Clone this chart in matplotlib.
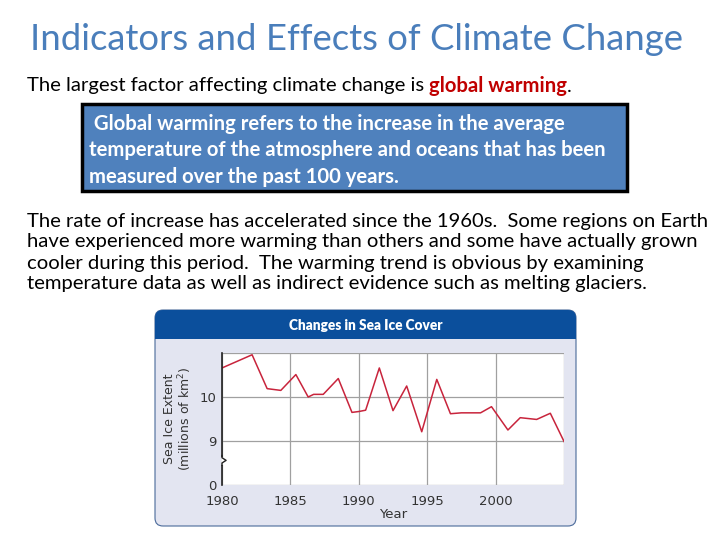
import matplotlib
matplotlib.use("Agg")
import matplotlib.pyplot as plt
from matplotlib.patches import FancyBboxPatch, Rectangle

# sea ice extent (millions of km^2); the axis is broken,
# so the "0" label sits one unit below 9
years = [1980.0, 1982.2, 1983.3, 1984.3, 1985.4, 1986.3, 1986.7, 1987.4,
         1988.5, 1989.5, 1990.0, 1990.5, 1991.5, 1992.5, 1993.5, 1994.6,
         1995.7, 1996.7, 1997.5, 1998.9, 1999.7, 2000.9, 2001.8, 2003.0,
         2004.0, 2005.0]
extent = [10.66, 10.96, 10.19, 10.15, 10.51, 10.00, 10.06, 10.06,
          10.42, 9.65, 9.67, 9.70, 10.66, 9.69, 10.25, 9.21,
          10.40, 9.62, 9.64, 9.64, 9.78, 9.25, 9.53, 9.49,
          9.63, 8.99]
x_ticks = [1980, 1985, 1990, 1995, 2000]
y_ticks = [8, 9, 10]
y_tick_labels = ["0", "9", "10"]

title = "Indicators and Effects of Climate Change"
intro = "The largest factor affecting climate change is "
key_term = "global warming"
box_lines = [" Global warming refers to the increase in the average",
             "temperature of the atmosphere and oceans that has been",
             "measured over the past 100 years."]
para_lines = ["The rate of increase has accelerated since the 1960s.  Some regions on Earth",
              "have experienced more warming than others and some have actually grown",
              "cooler during this period.  The warming trend is obvious by examining",
              "temperature data as well as indirect evidence such as melting glaciers."]

_TITLE, _RED, _BOX = "#4a7ebb", "#c00000", "#4f81bd"
_NAVY, _PANEL, _LINE = "#0b4f9c", "#e3e5f1", "#c8243c"
FONT = "Lato"
BODY = 14.6

fig = plt.figure(figsize=(7.2, 5.4), dpi=100)
bg = fig.add_axes([0, 0, 1, 1])
bg.set_xlim(0, 720); bg.set_ylim(540, 0); bg.axis("off")

# slide text
bg.text(357, 40, title, color=_TITLE, fontsize=26.3, family=FONT,
        ha="center", va="center")
t = bg.text(27, 86, intro, color="black", fontsize=BODY, family=FONT,
            va="center")
fig.canvas.draw()
r = fig.canvas.get_renderer()
x_end = bg.transData.inverted().transform(t.get_window_extent(r).corners()[-1])[0]
t2 = bg.text(x_end, 86, key_term, color=_RED, fontsize=BODY, family=FONT,
             weight="bold", va="center")
x_end = bg.transData.inverted().transform(t2.get_window_extent(r).corners()[-1])[0]
bg.text(x_end, 86, ".", color="black", fontsize=BODY, family=FONT, va="center")

bg.add_patch(Rectangle((82, 104), 545, 87, fc=_BOX, ec="black", lw=2.5))
for i, s in enumerate(box_lines):
    bg.text(89, 124 + 26.5 * i, s, color="white", fontsize=BODY, family=FONT,
            weight="bold", va="center")
for i, s in enumerate(para_lines):
    bg.text(27, 221 + 21 * i, s, color="black", fontsize=BODY, family=FONT,
            va="center")

# chart panel
bg.add_patch(FancyBboxPatch((155, 310), 421, 216, boxstyle="round,pad=0,rounding_size=8",
                            fc=_PANEL, ec="#4a6a9a", lw=0.8))
bg.add_patch(FancyBboxPatch((155, 310), 421, 29, boxstyle="round,pad=0,rounding_size=8",
                            fc=_NAVY, ec="none"))
bg.add_patch(Rectangle((155, 325), 421, 14, fc=_NAVY, ec="none"))
bg.text(366, 325.5, "Changes in Sea Ice Cover", color="white", fontsize=9.8,
        family=FONT, weight="heavy", ha="center", va="center")

ax = fig.add_axes([222 / 720, 1 - 485 / 540, (564 - 222) / 720, (485 - 353) / 540])
ax.plot(years, extent, color=_LINE, lw=1.1)
ax.set_xlim(1980, 2005); ax.set_ylim(8, 11)
ax.set_xticks(x_ticks + [2005]); ax.set_xticklabels([str(v) for v in x_ticks] + [""])
ax.set_yticks(y_ticks + [11]); ax.set_yticklabels(y_tick_labels + [""])
ax.grid(True, color="#a0a0a0", lw=0.9)
ax.set_axisbelow(True)
ax.tick_params(length=0, labelsize=9.5, labelcolor="#333333")
ax.tick_params(axis="x", pad=7)
ax.tick_params(axis="y", pad=4)
for side in ("top", "right", "bottom"):
    ax.spines[side].set_visible(False)
ax.spines["left"].set_color("#222222"); ax.spines["left"].set_linewidth(1.2)
# axis break on the y axis
ax.plot([0, 0, 0.012, 0, 0], [8.45, 8.5, 8.56, 8.62, 8.67], color="#222222",
        lw=1.0, transform=ax.get_yaxis_transform(), clip_on=False, zorder=5)
ax.plot([0, 0], [8.51, 8.61], color="white", lw=2,
        transform=ax.get_yaxis_transform(), clip_on=False, zorder=4)
ax.set_xlabel("Year", fontsize=9.5, color="#333333", labelpad=0)
ax.set_ylabel("Sea Ice Extent\n(millions of km$^2$)", fontsize=9,
              color="#333333", labelpad=4, linespacing=1.0)

fig.savefig("out.png", dpi=100)
